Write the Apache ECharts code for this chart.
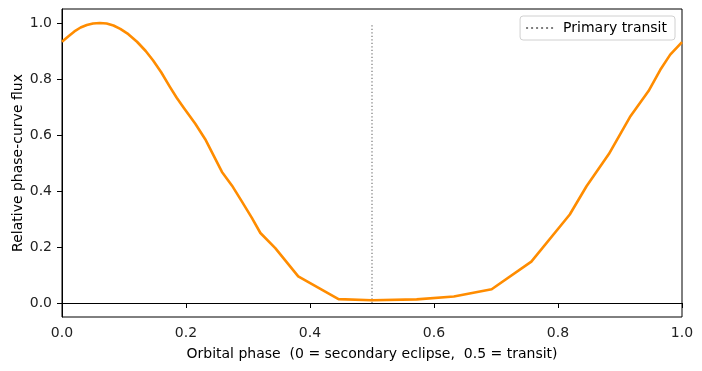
<!DOCTYPE html>
<html>
<head>
<meta charset="utf-8">
<script src="https://cdn.jsdelivr.net/npm/echarts@6/dist/echarts.min.js"></script>
<style>
  html, body { margin: 0; padding: 0; background: #fff; }
  #chart { width: 702px; height: 371px; }
</style>
</head>
<body>
<div id="chart"></div>
<script>
// orbital phase and relative flux
const phase = [0.000, 0.010, 0.020, 0.030, 0.040, 0.050, 0.061, 0.072, 0.083, 0.094,
               0.107, 0.121, 0.135, 0.147, 0.160, 0.174, 0.185, 0.196, 0.215, 0.231,
               0.258, 0.274, 0.290, 0.306, 0.320, 0.344, 0.381, 0.446, 0.500, 0.572,
               0.632, 0.693, 0.757, 0.819, 0.846, 0.882, 0.916, 0.946, 0.965, 0.981,
               1.000];
const flux = [0.933, 0.952, 0.970, 0.984, 0.993, 0.998, 1.000, 0.998, 0.991, 0.979,
              0.960, 0.933, 0.900, 0.866, 0.824, 0.772, 0.733, 0.698, 0.640, 0.585,
              0.468, 0.420, 0.363, 0.305, 0.250, 0.196, 0.095, 0.014, 0.010, 0.013,
              0.023, 0.049, 0.148, 0.316, 0.417, 0.532, 0.664, 0.757, 0.833, 0.887,
              0.932];
const transitPhase = 0.5;
const transitSpan = [0, 1];
const yTicks = [0, 0.2, 0.4, 0.6, 0.8, 1.0];

const font = 'DejaVu Sans';
// dotted legend swatch
const dottedIcon = 'path://M0,0h2v2h-2zM5,0h2v2h-2zM10,0h2v2h-2zM15,0h2v2h-2zM20,0h2v2h-2zM25,0h2v2h-2z';

const chart = echarts.init(document.getElementById('chart'));

chart.setOption({
    animation: false,
    textStyle: { fontFamily: font },
    grid: {
        left: 62, right: 20, top: 9, bottom: 54,
        outerBoundsMode: 'none', containLabel: false,
        show: true, borderColor: '#000', borderWidth: 1
    },
    legend: {
        data: [{ name: 'Primary transit', icon: dottedIcon }],
        right: 27, top: 16,
        itemWidth: 27, itemHeight: 2, itemGap: 10,
        padding: [5, 8, 5, 6],
        borderColor: '#d0d0d0', borderWidth: 1, borderRadius: 3,
        itemStyle: { color: '#808080' },
        textStyle: { fontFamily: font, fontSize: 14, color: '#000', padding: [0, 0, 0, 5] }
    },
    xAxis: {
        type: 'value', min: 0, max: 1, interval: 0.2,
        name: 'Orbital phase  (0 = secondary eclipse,  0.5 = transit)',
        nameLocation: 'middle', nameGap: 30, nameMoveOverlap: false,
        nameTextStyle: { fontFamily: font, fontSize: 14, color: '#000' },
        axisLine: { show: true, lineStyle: { color: '#000', width: 1 } },
        axisTick: { show: true, inside: false, length: 5, lineStyle: { color: '#000' } },
        axisLabel: { fontFamily: font, fontSize: 14, color: '#222', margin: 9,
                     formatter: v => v.toFixed(1) },
        splitLine: { show: false }
    },
    yAxis: {
        type: 'value', min: -0.05, max: 1.05,
        name: 'Relative phase-curve flux',
        nameLocation: 'middle', nameGap: 37, nameMoveOverlap: false,
        nameTextStyle: { fontFamily: font, fontSize: 14, color: '#000' },
        axisLine: { show: true, lineStyle: { color: '#000', width: 1 } },
        axisTick: { show: true, inside: false, length: 5, customValues: yTicks,
                    lineStyle: { color: '#000' } },
        axisLabel: { fontFamily: font, fontSize: 14, color: '#222', margin: 10,
                     customValues: yTicks, formatter: v => v.toFixed(1) },
        splitLine: { show: false }
    },
    series: [
        {
            name: 'Phase curve',
            type: 'line',
            data: phase.map((p, i) => [p, flux[i]]),
            showSymbol: false,
            lineStyle: { color: '#ff8c00', width: 2.6, join: 'round' },
            itemStyle: { color: '#ff8c00' },
            z: 3
        },
        {
            name: 'Primary transit',
            type: 'line',
            data: transitSpan.map(v => [transitPhase, v]),
            showSymbol: false,
            symbol: 'none',
            lineStyle: { color: '#808080', width: 1.3, type: [1.3, 2.2] },
            itemStyle: { color: '#808080' },
            z: 2
        }
    ]
});
</script>
</body>
</html>
